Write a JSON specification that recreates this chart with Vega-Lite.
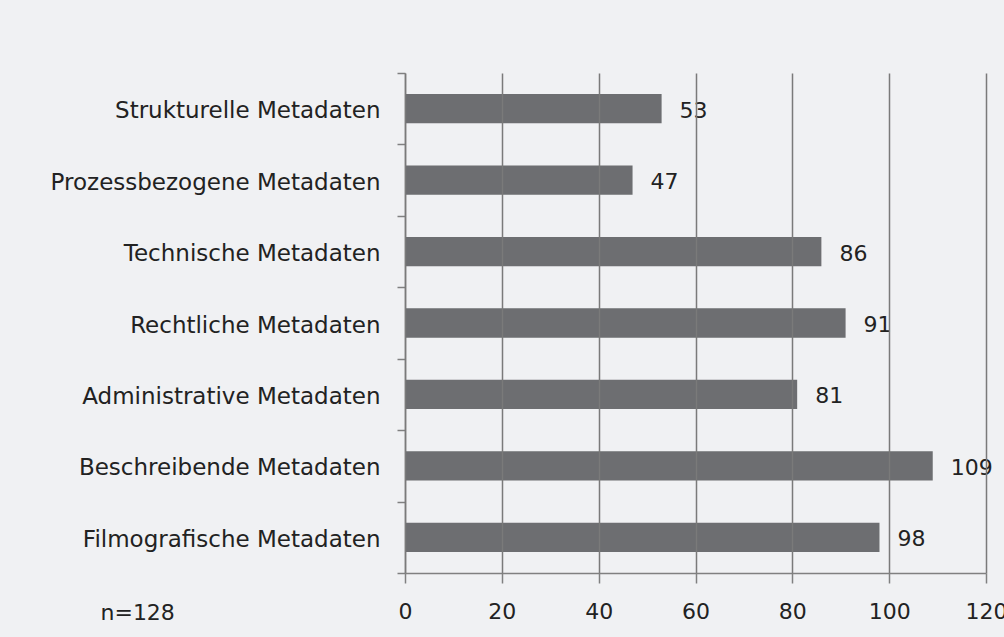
{
  "$schema": "https://vega.github.io/schema/vega-lite/v6.json",
  "width": 581,
  "height": 500,
  "autosize": "none",
  "padding": {"left": 405, "top": 73, "right": 18, "bottom": 64},
  "background": "#f0f1f3",
  "data": {
    "values": [
      {"kategorie": "Strukturelle Metadaten", "anzahl": 53},
      {"kategorie": "Prozessbezogene Metadaten", "anzahl": 47},
      {"kategorie": "Technische Metadaten", "anzahl": 86},
      {"kategorie": "Rechtliche Metadaten", "anzahl": 91},
      {"kategorie": "Administrative Metadaten", "anzahl": 81},
      {"kategorie": "Beschreibende Metadaten", "anzahl": 109},
      {"kategorie": "Filmografische Metadaten", "anzahl": 98}
    ]
  },
  "encoding": {
    "y": {
      "field": "kategorie",
      "type": "nominal",
      "sort": null,
      "scale": {"paddingInner": 0, "paddingOuter": 0},
      "axis": {
        "title": null,
        "domainColor": "#808080",
        "domainWidth": 1.5,
        "ticks": true,
        "tickBand": "extent",
        "tickSize": 8,
        "tickColor": "#808080",
        "tickWidth": 1.5,
        "labelFont": "DejaVu Sans",
        "labelFontSize": 23,
        "labelColor": "#222222",
        "labelPadding": 17,
        "labelLimit": 0,
        "labelOffset": 2,
        "grid": false
      }
    },
    "x": {
      "field": "anzahl",
      "type": "quantitative",
      "scale": {"domain": [0, 120], "nice": false},
      "axis": {
        "title": "n=128",
        "titleX": -305,
        "titleY": 39,
        "titleAlign": "left",
        "titleBaseline": "middle",
        "titleFont": "DejaVu Sans",
        "titleFontSize": 22,
        "titleFontWeight": "normal",
        "titleColor": "#222222",
        "values": [0, 20, 40, 60, 80, 100, 120],
        "grid": true,
        "gridColor": "#7a7a7a",
        "gridWidth": 1.5,
        "domainColor": "#808080",
        "domainWidth": 1.5,
        "tickSize": 10,
        "tickColor": "#808080",
        "tickWidth": 1.5,
        "labelFont": "DejaVu Sans",
        "labelFontSize": 22,
        "labelColor": "#222222",
        "labelPadding": 18,
        "labelFlush": false,
        "zindex": 1
      }
    }
  },
  "layer": [
    {"mark": {"type": "bar", "color": "#6d6e71", "height": {"band": 0.41}}},
    {
      "mark": {"type": "text", "align": "left", "baseline": "middle", "dx": 18, "dy": 2, "fontSize": 22, "font": "DejaVu Sans", "color": "#222222"},
      "encoding": {"text": {"field": "anzahl", "type": "quantitative"}}
    }
  ],
  "config": {"view": {"stroke": null}}
}
